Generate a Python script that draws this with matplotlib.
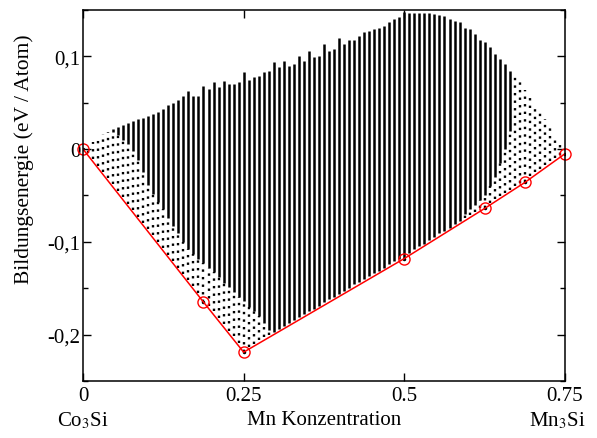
import numpy as np
import matplotlib.pyplot as plt

plt.rcParams['font.family'] = ['Liberation Serif', 'DejaVu Serif']
plt.rcParams['mathtext.fontset'] = 'stix'

# Mn concentration grid of the enumerated structures (steps of 1/128)
mn_conc = np.arange(1, 96) / 128

# lowest / highest formation energy per concentration column (eV/atom)
e_low = [-0.004, -0.011, -0.018, -0.025, -0.031, -0.038, -0.045, -0.052, -0.059, -0.066,
         -0.073, -0.080, -0.086, -0.093, -0.100, -0.107, -0.114, -0.121, -0.128, -0.135,
         -0.141, -0.148, -0.155, -0.165, -0.169, -0.175, -0.182, -0.189, -0.196, -0.202,
         -0.209, -0.219, -0.213, -0.210, -0.206, -0.203, -0.200, -0.197, -0.194, -0.191,
         -0.188, -0.184, -0.181, -0.178, -0.175, -0.172, -0.169, -0.165, -0.162, -0.159,
         -0.156, -0.153, -0.150, -0.146, -0.143, -0.140, -0.137, -0.134, -0.131, -0.128,
         -0.124, -0.121, -0.118, -0.118, -0.112, -0.108, -0.105, -0.102, -0.098, -0.095,
         -0.091, -0.088, -0.085, -0.081, -0.078, -0.074, -0.071, -0.068, -0.064, -0.064,
         -0.058, -0.054, -0.051, -0.047, -0.044, -0.040, -0.037, -0.036, -0.029, -0.025,
         -0.021, -0.017, -0.013, -0.010, -0.006]
e_high = [0.002, 0.008, 0.012, 0.016, 0.018, 0.022, 0.024, 0.026, 0.028, 0.030,
          0.032, 0.034, 0.036, 0.038, 0.040, 0.043, 0.047, 0.050, 0.053, 0.057,
          0.063, 0.057, 0.057, 0.068, 0.065, 0.072, 0.067, 0.073, 0.070, 0.070,
          0.072, 0.083, 0.075, 0.078, 0.079, 0.083, 0.084, 0.094, 0.088, 0.095,
          0.090, 0.092, 0.100, 0.095, 0.106, 0.099, 0.100, 0.113, 0.106, 0.108,
          0.120, 0.113, 0.118, 0.118, 0.122, 0.126, 0.127, 0.130, 0.131, 0.133,
          0.137, 0.140, 0.142, 0.148, 0.147, 0.147, 0.147, 0.147, 0.147, 0.146,
          0.145, 0.143, 0.140, 0.138, 0.137, 0.131, 0.129, 0.124, 0.118, 0.115,
          0.110, 0.102, 0.097, 0.092, 0.084, 0.078, 0.072, 0.064, 0.056, 0.049,
          0.040, 0.032, 0.024, 0.014, 0.006]
# below this energy the structures are sparse (dotted), above it dense
e_dense = [0.002, 0.008, 0.012, 0.016, 0.018, 0.018, 0.015, 0.010, 0.005, -0.002,
           -0.012, -0.025, -0.039, -0.048, -0.057, -0.065, -0.074, -0.083, -0.091, -0.100,
           -0.108, -0.113, -0.118, -0.123, -0.128, -0.133, -0.138, -0.144, -0.149, -0.154,
           -0.159, -0.164, -0.170, -0.175, -0.180, -0.188, -0.195, -0.197, -0.194, -0.191,
           -0.188, -0.184, -0.181, -0.178, -0.175, -0.172, -0.169, -0.165, -0.162, -0.159,
           -0.156, -0.153, -0.150, -0.146, -0.143, -0.140, -0.137, -0.134, -0.131, -0.128,
           -0.124, -0.121, -0.118, -0.118, -0.112, -0.108, -0.105, -0.102, -0.098, -0.095,
           -0.091, -0.088, -0.085, -0.081, -0.078, -0.070, -0.065, -0.060, -0.055, -0.050,
           -0.040, -0.030, -0.015, 0.000, 0.020, 0.078, 0.072, 0.064, 0.056, 0.049,
           0.040, 0.032, 0.024, 0.014, 0.006]

# convex hull (ground states)
hull_x = [0, 0.1875, 0.25, 0.5, 0.625, 0.6875, 0.75]
hull_e = [0, -0.165, -0.219, -0.118, -0.064, -0.036, -0.005]

y_ticks = [-0.2, -0.1, 0, 0.1]
y_ticklabels = ['-0,2', '-0,1', '0', '0,1']
x_ticks = [0, 0.25, 0.5, 0.75]
x_ticklabels = ['0', '0.25', '0.5', '0.75']

fig = plt.figure(figsize=(5.97, 4.39), dpi=100)
ax = fig.add_axes([0.139, 0.13, 0.8074, 0.845])

ax.vlines(mn_conc, e_low, e_dense, colors='k', lw=1.7, linestyles=[(0, (1.0, 2.2))])
ax.vlines(mn_conc, e_dense, e_high, colors='k', lw=1.8)
ax.plot(hull_x, hull_e, 'k.', ms=3)

ax.plot(hull_x, hull_e, '-', color='red', lw=1.1)
ax.plot(hull_x, hull_e, 'o', ms=8, mfc='none', mec='red', mew=1.0, clip_on=False)

ax.set_xlim(0, 0.75)
ax.set_ylim(-0.25, 0.15)
ax.set_xticks(x_ticks)
ax.set_xticklabels(x_ticklabels)
ax.set_yticks(y_ticks)
ax.set_yticklabels(y_ticklabels)
ax.set_yticks(np.arange(-0.25, 0.151, 0.05), minor=True)

ax.tick_params(which='both', direction='in', top=True, right=True, width=1.0,
               labelsize=15)
ax.tick_params(which='major', length=6)
ax.tick_params(which='minor', length=3.5)
ax.tick_params(axis='x', pad=4)
ax.tick_params(axis='y', pad=2)
for s in ax.spines.values():
    s.set_linewidth(1.1)

ax.set_ylabel('Bildungsenergie (eV / Atom)', fontsize=15.5)
ax.yaxis.set_label_coords(-0.102, 0.6)
ax.set_xlabel('Mn Konzentration', fontsize=15, labelpad=3)

ax.text(0, -0.076, 'Co$_3$Si', transform=ax.get_xaxis_transform(), ha='center',
        va='top', fontsize=15)
ax.text(0.7385, -0.076, 'Mn$_3$Si', transform=ax.get_xaxis_transform(), ha='center',
        va='top', fontsize=15)

fig.savefig('out.png', dpi=100)
